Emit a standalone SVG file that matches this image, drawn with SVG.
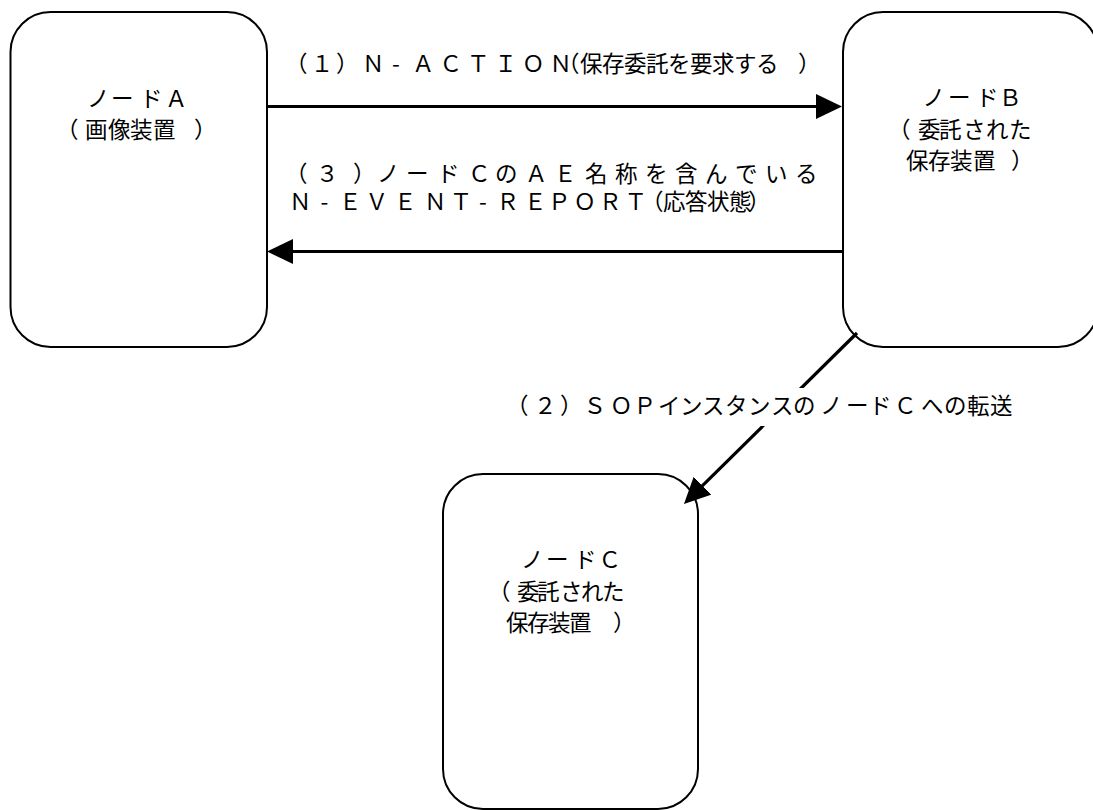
<svg xmlns="http://www.w3.org/2000/svg" width="1093" height="810" viewBox="0 0 1093 810">
<style>
.node{fill:#fff;stroke:#000;stroke-width:2}
.t{font-family:"Noto Sans CJK JP","Noto Sans",sans-serif;font-size:22.5px;fill:#000}
.edge{stroke:#000;stroke-width:3.2;fill:none}
</style>
<defs>
<marker id="ah" markerUnits="userSpaceOnUse" markerWidth="26" markerHeight="25" viewBox="0 0 26 25" refX="6" refY="12.5" orient="auto">
<path d="M0,0 L26,12.5 L0,25 z" fill="#000"/>
</marker>
</defs>
<rect width="1093" height="810" fill="#fff"/>
<g id="nodeA">
<rect class="node" x="10.5" y="12" width="256.5" height="335" rx="40" ry="40"/>
<text class="t" y="107" x="87 111 140 165">ノードＡ</text>
<text class="t" y="138" x="56 85 108 130 153 194">（画像装置）</text>
</g>
<g id="nodeB">
<rect class="node" x="843" y="12" width="255" height="335" rx="40" ry="40"/>
<text class="t" y="106" x="922.5 948 976 999">ノードＢ</text>
<text class="t" y="138" x="888 918 939 963 986 1009">（委託された</text>
<text class="t" y="169" x="906 928 950 973 1011">保存装置）</text>
</g>
<g id="nodeC">
<rect class="node" x="443" y="474" width="255" height="335" rx="40" ry="40"/>
<text class="t" y="568" x="521 546 574 598.5">ノードＣ</text>
<text class="t" y="600" x="488 517 537 560 581 602">（委託された</text>
<text class="t" y="631" x="506 527 548 569 613">保存装置）</text>
</g>
<g id="connectors">
<g id="edge1">
<line class="edge" x1="267" y1="106.5" x2="822" y2="106.5" marker-end="url(#ah)"/>
<text class="t" y="72" x="285 310.7 336 362 392 412 439.5 467 494.5 522 549.5 557 580 602 624 646 668 690 712 734 756 798">（１）Ｎ-ＡＣＴＩＯＮ（保存委託を要求する）</text>
</g>
<g id="edge3">
<line class="edge" x1="843" y1="251.5" x2="287" y2="251.5" marker-end="url(#ah)"/>
<text class="t" y="182" x="285 316 353 377 406 437 468 495 525 554 585 615 645 675 705 735 765 795">（３）ノードＣのＡＥ名称を含んでいる</text>
<text class="t" y="210" x="289 320.5 339 365.5 394 424 449.8 479 496.5 524 548 573.5 599 624.5 641 663 685 707 729 748">Ｎ-ＥＶＥＮＴ-ＲＥＰＯＲＴ（応答状態）</text>
</g>
<g id="edge2">
<line class="edge" x1="857" y1="333" x2="698.2" y2="489.9" marker-end="url(#ah)"/>
<rect x="500" y="388" width="525" height="38" fill="#fff"/>
<text class="t" y="414" x="506 534 560 583.5 610 633.5 658 680 702 725 748 771 793 820 846 869 894 921 944 967 990">（２）ＳＯＰインスタンスのノードＣへの転送</text>
</g>
</g>
</svg>
